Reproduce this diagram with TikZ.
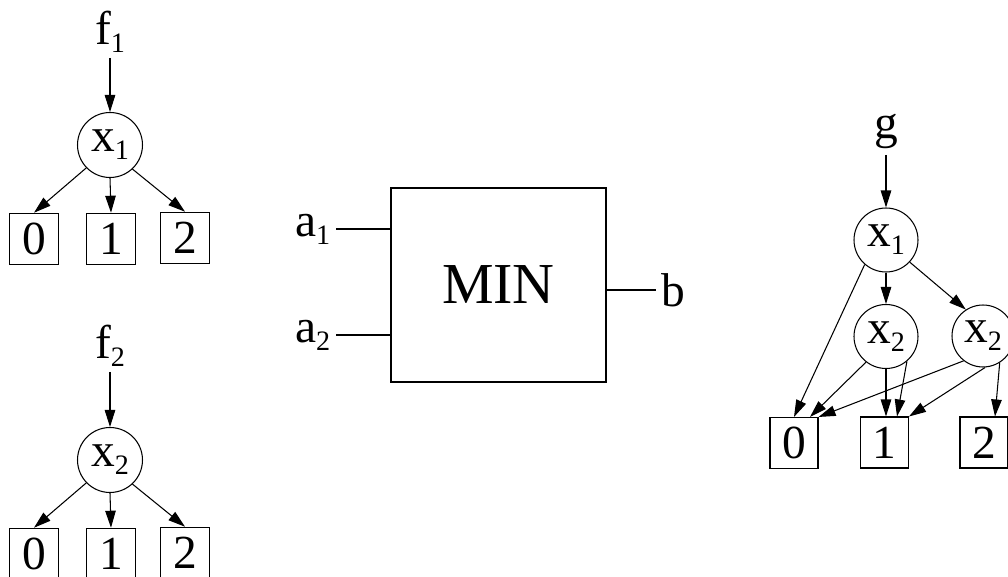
\documentclass[tikz,border=0pt]{standalone}
\usepackage{fontspec}
\setmainfont{Liberation Serif}
\usepackage{tikz}
\usetikzlibrary{arrows.meta, calc}

% low subscript as in the drawing
\newcommand{\lowsub}[1]{\raisebox{-0.17em}{\fontsize{16}{16}\selectfont #1}}

\begin{document}
\begin{tikzpicture}[x=0.02cm, y=-0.02cm, line width=0.6pt]

% --- Style Definitions ---
% Variable nodes (circles)
\tikzstyle{var_node}=[circle, draw, inner sep=0pt, minimum size=1.3cm, font=\fontsize{27}{30}\selectfont]
% Terminal nodes (boxes)
\tikzstyle{term_node}=[rectangle, draw, inner sep=0pt, minimum width=0.98cm, minimum height=1.03cm, font=\fontsize{27}{30}\selectfont]
% Plain labels
\tikzstyle{lbl_node}=[inner sep=3pt, font=\fontsize{27}{30}\selectfont]
% Gate box
\tikzstyle{gate_node}=[rectangle, draw, minimum width=4.3cm, minimum height=3.88cm, font=\fontsize{33}{38}\selectfont]

% Arrow Styles
\tikzstyle{arr}=[-{Triangle[length=0.34cm, width=0.21cm]}]

\clip (0,0) rectangle (1008,577);

% --- 1. Top left: f1 ---
\node[lbl_node, anchor=south] (f1) at (110,58) {f\lowsub{1}};
\node[var_node] (x1a) at (110,145) {x\lowsub{1}};
\node[term_node] (b0a) at (34,239) {0};
\node[term_node] (b1a) at (111,239) {1};
\node[term_node] (b2a) at (185,238) {2};

\draw[arr] (f1.south) -- (x1a.north);
\draw[arr] (x1a.-136) -- (b0a.north);
\draw[arr] (x1a.south) -- (b1a.north);
\draw[arr] (x1a.-47) -- (b2a.north);

% --- 2. Bottom left: f2 ---
\node[lbl_node, anchor=south] (f2) at (110,372) {f\lowsub{2}};
\node[var_node] (x2a) at (110,460) {x\lowsub{2}};
\node[term_node] (b0b) at (34,554) {0};
\node[term_node] (b1b) at (111,554) {1};
\node[term_node] (b2b) at (185,553) {2};

\draw[arr] (f2.south) -- (x2a.north);
\draw[arr] (x2a.-136) -- (b0b.north);
\draw[arr] (x2a.south) -- (b1b.north);
\draw[arr] (x2a.-47) -- (b2b.north);

% --- 3. MIN gate ---
\node[gate_node] (mn) at (498.5,285) {MIN};
\node[lbl_node, anchor=east] (a1) at (336,229) {a\lowsub{1}};
\node[lbl_node, anchor=east] (a2) at (336,335) {a\lowsub{2}};
\node[lbl_node, anchor=west] (b) at (656,290) {b};

\draw (a1.east) -- (a1.east -| mn.west);
\draw (a2.east) -- (a2.east -| mn.west);
\draw (mn.east |- b.west) -- (b.west);

% --- 4. Right: g ---
\node[lbl_node, anchor=south] (g) at (886,155) {g};
\node[var_node, minimum size=1.28cm] (x1r) at (886,240) {x\lowsub{1}};
\node[var_node, minimum size=1.28cm] (x2l) at (886,336.5) {x\lowsub{2}};
\node[var_node, minimum size=1.24cm] (x2r) at (983,336) {x\lowsub{2}};
\node[term_node, minimum width=0.96cm, minimum height=1.02cm] (r0) at (794,443) {0};
\node[term_node, minimum width=0.96cm, minimum height=1.02cm] (r1) at (884.5,442.5) {1};
\node[term_node, minimum width=0.96cm, minimum height=1.02cm] (r2) at (984,442.5) {2};

\draw[arr] (g.south) -- (x1r.north);
\draw[arr] (x1r.-131) -- (r0.north);
\draw[arr] (x1r.south) -- (x2l.north);
\draw[arr] (x1r.-43) -- (x2r.123);

\draw[arr] (x2l.-128) -- ([xshift=0.32cm]r0.north);
\draw[arr] (x2l.south) -- (x2l.south |- r1.north);
\draw[arr] (x2l.-50) -- ([xshift=0.25cm]r1.north);

\draw[arr] (x2r.-128) -- (r0.north east);
\draw[arr] (x2r.-86) -- (r1.north east);
\draw[arr] (x2r.-58) -- ([xshift=0.22cm]r2.north);

\end{tikzpicture}
\end{document}
